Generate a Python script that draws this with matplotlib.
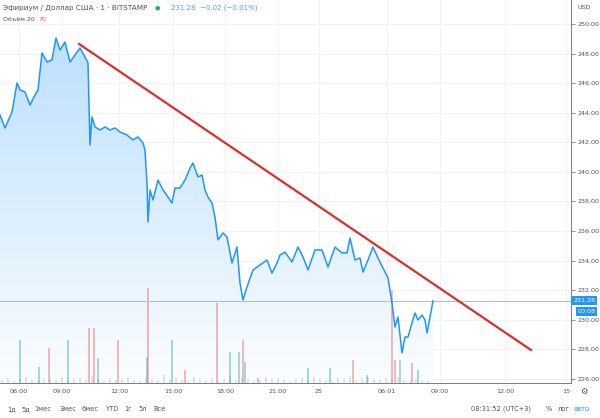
import numpy as np
import matplotlib.pyplot as plt
from matplotlib.colors import LinearSegmentedColormap
from matplotlib.patches import Polygon

# price curve: bar position vs price
bar_pos = [0, 5, 12, 17, 20, 25, 30, 35, 38, 42, 47, 52, 56, 60, 65, 70, 75, 80, 85, 88,
           90, 92, 95, 100, 105, 110, 115, 120, 127, 133, 138, 143, 145, 147, 148, 150,
           153, 158, 163, 168, 172, 175, 180, 185, 190, 193, 198, 202, 205, 208, 212,
           215, 218, 223, 227, 232, 237, 240, 243, 247, 253, 260, 267, 272, 277, 280,
           285, 292, 298, 303, 308, 315, 322, 328, 335, 342, 347, 350, 355, 360, 363,
           368, 373, 378, 383, 388, 392, 395, 398, 402, 405, 408, 412, 415, 418, 422,
           425, 427, 430, 433]
price = [243.85, 242.97, 244.05, 246.01, 245.54, 245.40, 244.52, 245.20, 245.54, 248.04,
         247.43, 247.57, 249.05, 248.24, 248.78, 247.43, 247.90, 248.38, 247.77, 247.36,
         241.82, 243.71, 243.04, 242.83, 243.04, 242.83, 242.97, 242.70, 242.49, 242.16,
         242.36, 241.95, 241.48, 239.25, 236.61, 238.78, 238.10, 239.45, 238.78, 238.30,
         237.90, 238.91, 238.91, 239.45, 240.26, 240.60, 239.66, 239.79, 238.78, 238.30,
         237.90, 236.95, 235.40, 235.87, 235.60, 233.84, 234.92, 232.49, 231.34, 232.22,
         233.37, 233.71, 234.04, 233.16, 233.84, 234.38, 234.58, 233.91, 234.92, 234.25,
         233.37, 234.72, 234.72, 233.57, 234.92, 234.52, 234.52, 235.53, 234.04, 234.18,
         233.23, 234.04, 234.92, 234.18, 233.50, 232.83, 231.14, 229.51, 230.19, 227.76,
         228.84, 228.84, 229.78, 230.46, 229.99, 230.32, 229.99, 229.11, 230.19, 231.28]

# volume spikes (position, height, rising or falling)
spike_pos = [20, 39, 49, 68, 89, 94, 98, 118, 147, 148, 172, 185, 217, 230, 239, 243, 245,
             258, 308, 330, 353, 367, 392, 395, 400, 412, 418]
spike_vol = [43, 16, 35, 43, 55, 55, 25, 43, 26, 95, 43, 13, 80, 31, 31, 43, 21,
             5, 15, 15, 23, 8, 93, 23, 23, 20, 13]
spike_up = [1, 1, 0, 1, 0, 0, 1, 0, 1, 0, 1, 0, 0, 1, 1, 0, 1,
            0, 1, 1, 0, 1, 0, 0, 1, 0, 1]
base_pos = list(range(2, 434, 6))
base_vol = [3, 5, 2, 4, 6, 3, 2, 5, 4, 3, 6, 2, 4, 5, 3, 7, 4, 2, 5, 3, 4, 6, 3, 2,
            5, 4, 3, 8, 4, 5, 3, 2, 6, 4, 3, 5, 2, 4, 7, 3, 5, 4, 2, 3, 6, 4, 5, 3,
            2, 4, 5, 3, 6, 4, 3, 2, 5, 4, 7, 3, 5, 6, 4, 3, 5, 4, 6, 3, 2, 4, 3, 2]

trend_x = [79, 531]
trend_y = [248.65, 227.96]

last_price = 231.28
yticks = [226, 228, 230, 232, 234, 236, 238, 240, 242, 244, 246, 248, 250]
tick_pos = [19, 62, 119, 173, 225, 278, 319, 387, 440, 505, 566]
tick_lab = ["06:00", "09:00", "12:00", "15:00", "18:00", "21:00", "25", "06:01",
            "09:00", "12:00", "15"]

line_c = "#2196f3"
txt_c = "#50535e"
y0, y1 = 225.73, 251.62
px = (y1 - y0) / 383  # price units per pixel, used for volume bars

fig = plt.figure(figsize=(6, 4.18), dpi=100)
ax = fig.add_axes([0, 35 / 418, 571 / 600, 383 / 418])
ax.set_xlim(0, 571)
ax.set_ylim(y0, y1)

# grid
for t in tick_pos:
    ax.axvline(t, color="#f0f3fa", lw=0.8, zorder=0)
for y in yticks:
    ax.axhline(y, color="#f0f3fa", lw=0.8, zorder=0)

# gradient area fill
grad = np.linspace(0.30, 0.02, 256).reshape(-1, 1)
cm = LinearSegmentedColormap.from_list("g", ["#ffffff", line_c])
img = ax.imshow(grad, extent=[0, 433, y0, 249.2], aspect="auto",
                cmap=cm, vmin=0, vmax=1, zorder=1)
poly = Polygon(list(zip(bar_pos, price)) + [(433, y0), (0, y0)],
               closed=True, transform=ax.transData, facecolor="none", edgecolor="none")
ax.add_patch(poly)
img.set_clip_path(poly)

# volume at the bottom
ax.bar(base_pos, [v * px for v in base_vol], bottom=y0, width=1.2,
       color="#9aa7b0", alpha=0.3, linewidth=0, zorder=2)
cols = ["#26a69a" if u else "#ef5350" for u in spike_up]
ax.bar(spike_pos, [v * px for v in spike_vol], bottom=y0, width=1.3,
       color=cols, alpha=0.4, linewidth=0, zorder=2)

ax.plot(bar_pos, price, color=line_c, lw=1.1, zorder=3)
ax.axhline(last_price, color="#b2c4d4", lw=0.9, zorder=2)
ax.plot(trend_x, trend_y, color="#d8302c", lw=1.6, zorder=4)

ax.yaxis.tick_right()
ax.set_yticks(yticks)
ax.set_yticklabels([f"{v:.2f}" for v in yticks], fontsize=4.6, color=txt_c)
ax.tick_params(axis="y", length=3, width=0.6, color="#787b86", pad=1.5)
ax.set_xticks(tick_pos)
ax.set_xticklabels(tick_lab, fontsize=4.6, color=txt_c)
ax.tick_params(axis="x", length=0, pad=4)
for k in ["top", "left"]:
    ax.spines[k].set_visible(False)
for k in ["right", "bottom"]:
    ax.spines[k].set_color("#787b86")
    ax.spines[k].set_linewidth(0.7)

# price labels on the axis
ax.text(1.004, last_price, "231.28", transform=ax.get_yaxis_transform(),
        fontsize=4.6, color="white", va="center", ha="left",
        bbox=dict(boxstyle="square,pad=0.3", fc="#2196f3", ec="none"), zorder=6)
ax.text(1.012, last_price - 0.72, "00:08", transform=ax.get_yaxis_transform(),
        fontsize=4.6, color="white", va="center", ha="left",
        bbox=dict(boxstyle="square,pad=0.25", fc="#2196f3", ec="none"), zorder=6)

# header texts
fig.text(0.005, 0.982, "Эфириум / Доллар США · 1 · BITSTAMP", fontsize=5.2, color=txt_c, va="center")
fig.text(0.258, 0.982, "●", fontsize=4.5, color="#26a69a", va="center")
fig.text(0.285, 0.982, "231.28  −0.02 (−0.01%)", fontsize=5, color="#53a3d6", va="center")
fig.text(0.005, 0.953, "Объём 20", fontsize=4.5, color=txt_c, va="center")
fig.text(0.064, 0.953, "70", fontsize=4.5, color="#ef5350", va="center")
fig.text(0.963, 0.983, "USD", fontsize=4.6, color=txt_c, va="center")
fig.text(0.973, 0.063, "⚙", fontsize=6, color=txt_c, ha="center", va="center")

# bottom toolbar
tools = ["1д", "5д", "1мес", "3мес", "6мес", "YTD", "1г", "5л", "Все"]
tools_x = [12, 26, 43, 68, 90, 113, 128, 143, 160]
for s, x in zip(tools, tools_x):
    fig.text(x / 600, 0.022, s, fontsize=4.8, color=txt_c, ha="center", va="center")
fig.text(501 / 600, 0.022, "08:31:52 (UTC+3)", fontsize=4.8, color=txt_c, ha="center", va="center")
fig.text(549 / 600, 0.022, "%", fontsize=4.8, color=txt_c, ha="center", va="center")
fig.text(564 / 600, 0.022, "лог", fontsize=4.8, color=txt_c, ha="center", va="center")
fig.text(582 / 600, 0.022, "авто", fontsize=4.8, color="#2196f3", ha="center", va="center")

fig.savefig("out.png", dpi=100)
